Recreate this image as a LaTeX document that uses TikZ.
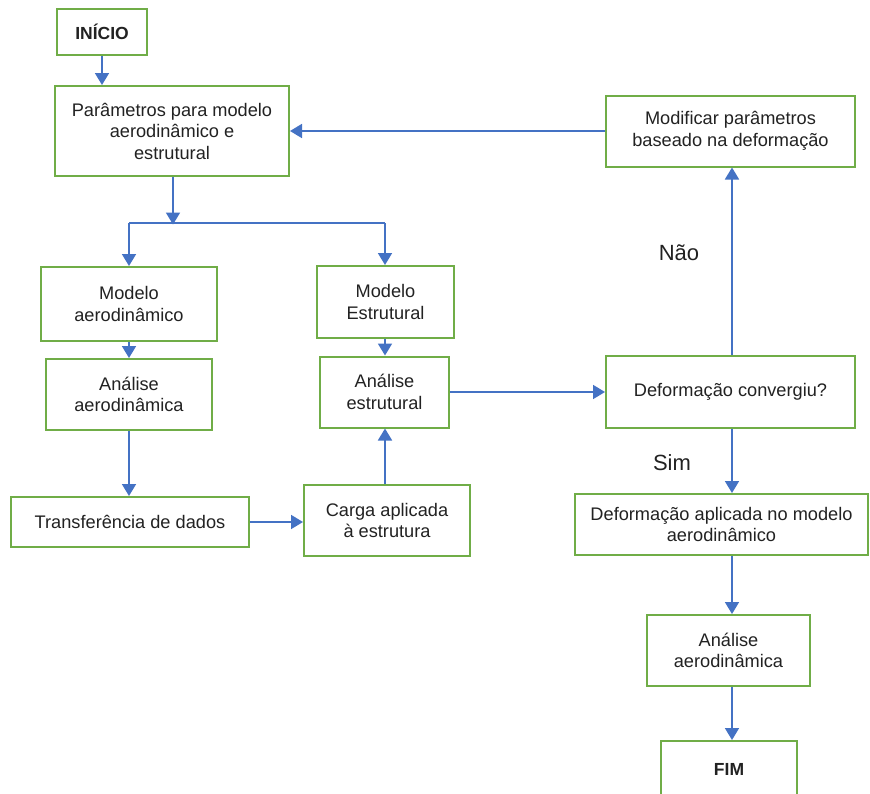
\documentclass[tikz,border=0pt]{standalone}
\usepackage{fontspec}
\setmainfont{Liberation Sans}
\usetikzlibrary{arrows.meta}
\definecolor{boxgreen}{HTML}{70AD47}
\definecolor{arrowblue}{HTML}{4472C4}
\definecolor{txt}{HTML}{222222}
\begin{document}
\begin{tikzpicture}[x=1pt,y=-1pt,
  box/.style={draw=boxgreen, line width=2pt, fill=white, inner sep=0pt, align=center,
    text=txt, font=\fontsize{18.2}{21.5}\selectfont},
  conn/.style={draw=arrowblue, line width=1.8pt},
  arr/.style={conn, -{Triangle[width=14pt,length=12pt]}},
  lbl/.style={text=txt, font=\fontsize{22}{26}\selectfont, anchor=base, inner sep=0pt}]
\clip (0,0) rectangle (870,793);
\fill[white] (0,0) rectangle (870,793);

\node[box, minimum width=90, minimum height=46, font=\fontsize{17.5}{21.5}\selectfont\bfseries] (inicio) at (102,32) {INÍCIO};
\node[box, minimum width=234, minimum height=90] (param) at (172,131) {Parâmetros para modelo\\aerodinâmico e\\estrutural};
\node[box, minimum width=249, minimum height=71] (modif) at (730.5,131) {Modificar parâmetros\\baseado na deformação};
\node[box, minimum width=176, minimum height=74] (modaero) at (129,304) {Modelo\\aerodinâmico};
\node[box, minimum width=137, minimum height=72] (modest) at (385.5,302) {Modelo\\Estrutural};
\node[box, minimum width=166, minimum height=71] (analaero) at (129,394.5) {Análise\\aerodinâmica};
\node[box, minimum width=129, minimum height=71] (analest) at (384.5,392) {Análise\\estrutural};
\node[box, minimum width=249, minimum height=72] (deform) at (730.5,392) {Deformação convergiu?};
\node[box, minimum width=238, minimum height=50] (transf) at (130,522) {Transferência de dados};
\node[box, minimum width=166, minimum height=71] (carga) at (387,520.5) {Carga aplicada\\à estrutura};
\node[box, minimum width=293, minimum height=61] (deformapl) at (721.5,524.5) {Deformação aplicada no modelo\\aerodinâmico};
\node[box, minimum width=163, minimum height=71] (analaero2) at (728.5,650.5) {Análise\\aerodinâmica};
\node[box, minimum width=136, minimum height=56, font=\fontsize{17.5}{21.5}\selectfont\bfseries] (fim) at (729,769) {FIM};

\node[lbl] (nao) at (679,260) {Não};
\node[lbl] (sim) at (672,470) {Sim};

\coordinate (split) at (173,223);
\coordinate (splitL) at (129,223);
\coordinate (splitR) at (385,223);

\draw[arr] (inicio.south) -- (inicio.south |- param.north);
\draw[arr] (param.south -| split) -- ([yshift=-1.5pt]split);
\draw[conn] (splitL) -- (splitR);
\draw[arr] (splitL) -- (splitL |- modaero.north);
\draw[arr] (splitR) -- (splitR |- modest.north);
\draw[arr] (modaero.south) -- (modaero.south |- analaero.north);
\draw[arr] (modest.south -| splitR) -- (splitR |- analest.north);
\draw[arr] (analaero.south) -- (analaero.south |- transf.north);
\draw[arr] (transf.east) -- (transf.east -| carga.west);
\draw[arr] (carga.north -| splitR) -- (splitR |- analest.south);
\draw[arr] (analest.east) -- (analest.east -| deform.west);
\draw[arr] ([xshift=1.5pt]deform.north) -- ([xshift=1.5pt]modif.south);
\draw[arr] (modif.west) -- (modif.west -| param.east);
\draw[arr] ([xshift=1.5pt]deform.south) -- ([xshift=1.5pt]deform.south |- deformapl.north);
\draw[arr] ([xshift=1.5pt]deform.south |- deformapl.south) -- ([xshift=1.5pt]deform.south |- analaero2.north);
\draw[arr] ([xshift=1.5pt]deform.south |- analaero2.south) -- ([xshift=1.5pt]deform.south |- fim.north);
\end{tikzpicture}
\end{document}
